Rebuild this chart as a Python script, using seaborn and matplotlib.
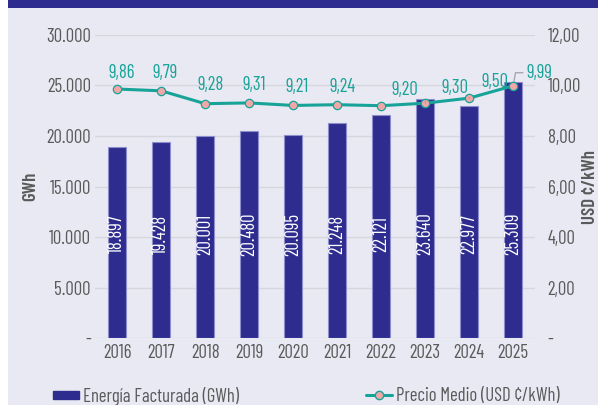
import matplotlib
matplotlib.use("Agg")
import matplotlib.pyplot as plt
import seaborn as sns
import pandas as pd
from matplotlib.patches import Rectangle, Patch
from matplotlib.lines import Line2D
from matplotlib.ticker import FuncFormatter, MultipleLocator

years = ["2016", "2017", "2018", "2019", "2020", "2021", "2022", "2023", "2024", "2025"]
energia = [18897, 19428, 20001, 20480, 20095, 21248, 22121, 23640, 22977, 25309]
precio = [9.86, 9.79, 9.28, 9.31, 9.21, 9.24, 9.20, 9.30, 9.50, 9.99]

bar_label = "Energía Facturada (GWh)"
line_label = "Precio Medio (USD ¢/kWh)"

BG = "#E9E9F3"
NAVY = "#2E2D8F"
TEAL = "#17A398"
PINK = "#F2A7A7"
GRAY = "#5A5A5A"
FS = 13.5

sns.set_theme(style="white")
plt.rcParams["font.family"] = ["Barlow Condensed", "DejaVu Sans"]

fig = plt.figure(figsize=(5.98, 4.05), dpi=100, facecolor=BG)
ax = fig.add_axes([0.159, 0.1654, 0.736, 0.7482])
ax.set_facecolor(BG)

df = pd.DataFrame({"year": years, "energia": energia, "precio": precio})

sns.barplot(data=df, x="year", y="energia", ax=ax, color=NAVY, width=0.4,
            edgecolor="#8E8ECC", linewidth=0.8, saturation=1)
ax.set_ylim(0, 30000)
ax.set_xlim(-0.5, 9.5)
ax.yaxis.set_major_locator(MultipleLocator(5000))
ax.yaxis.set_major_formatter(FuncFormatter(
    lambda v, p: "-" if v == 0 else f"{int(v):,}".replace(",", ".")))
ax.grid(axis="y", color="#D6D6DE", linewidth=1)
ax.set_axisbelow(True)
for s in ax.spines.values():
    s.set_visible(False)
ax.tick_params(axis="both", length=0, labelsize=FS, colors=GRAY)
ax.tick_params(axis="x", pad=4)
ax.tick_params(axis="y", pad=3)
ax.set_xlabel("")
ax.set_ylabel("GWh", fontsize=FS, color=GRAY, fontweight="semibold", labelpad=5)

for i, v in enumerate(energia):
    ax.text(i, 10300, f"{v:,}".replace(",", "."), rotation=90, ha="center",
            va="center", color="white", fontsize=FS)

ax2 = ax.twinx()
sns.lineplot(data=df, x="year", y="precio", ax=ax2, color=TEAL, linewidth=2.2,
             marker="o", markersize=6, markerfacecolor=PINK,
             markeredgecolor=TEAL, markeredgewidth=0.9, legend=False)
ax2.set_ylim(0, 12)
ax2.set_xlim(-0.5, 9.5)
ax2.yaxis.set_major_locator(MultipleLocator(2))
ax2.yaxis.set_major_formatter(FuncFormatter(
    lambda v, p: "-" if v == 0 else f"{v:.2f}".replace(".", ",")))
for s in ax2.spines.values():
    s.set_visible(False)
ax2.tick_params(axis="y", length=0, labelsize=FS, colors=GRAY, pad=9)
ax2.set_ylabel("USD ¢/kWh", fontsize=FS, color=GRAY, fontweight="semibold", labelpad=1)
ax2.grid(False)

offsets = [(5, 16), (4, 18), (6, 19), (5, 18), (4, 18), (5, 18),
           (24, 16), (30, 15), (26, 16), (26, 13)]
leaders = [False] * 7 + [True, True, True]
for i, (v, off, ld) in enumerate(zip(precio, offsets, leaders)):
    txt = f"{v:.2f}".replace(".", ",")
    kw = {}
    if ld:
        kw["arrowprops"] = dict(arrowstyle="-", color="#A0A0A8", lw=0.9,
                                shrinkA=13, shrinkB=3,
                                connectionstyle="angle,angleA=0,angleB=80,rad=0")
    ax2.annotate(txt, (i, v), xytext=off, textcoords="offset pixels",
                 ha="center", va="center", color=TEAL, fontsize=FS, **kw)

hb = Patch(facecolor=NAVY, edgecolor=NAVY)
hl = Line2D([], [], color=TEAL, lw=2.2, marker="o", markersize=6,
            markerfacecolor=PINK, markeredgecolor=TEAL)
common = dict(frameon=False, fontsize=FS, handlelength=1.4,
              handletextpad=0.2, labelcolor=GRAY, borderpad=0,
              borderaxespad=0, loc="center left")
fig.legend([hb], [bar_label], bbox_to_anchor=(53 / 598, 0.022),
           handleheight=0.3, **common)
fig.legend([hl], [line_label], bbox_to_anchor=(366 / 598, 0.022), **common)

fig.patches.append(Rectangle((0, 0), 8 / 598, 1, transform=fig.transFigure,
                             facecolor="white", edgecolor="none", zorder=-1))
fig.patches.append(Rectangle((8 / 598, 1 - 8 / 405), 1, 8 / 405,
                             transform=fig.transFigure, facecolor=NAVY,
                             edgecolor="none", zorder=-1))

fig.savefig("out.png", dpi=100, facecolor=BG)
